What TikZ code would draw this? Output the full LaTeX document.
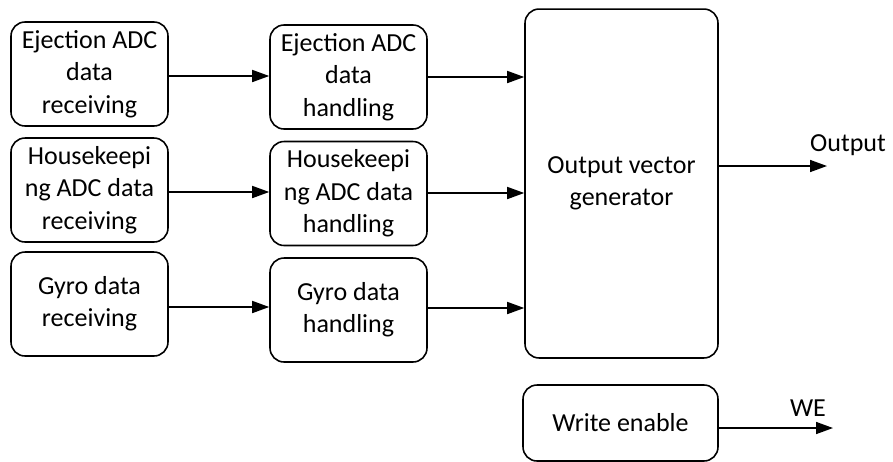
\documentclass[tikz,border=0pt]{standalone}
\usepackage{fontspec}
\setmainfont{Carlito}
\usetikzlibrary{arrows.meta}
\tikzset{
    block/.style={draw, rounded corners=0.28cm, line width=0.9pt, align=center,
        minimum width=3.14cm, minimum height=2.08cm, inner sep=0pt},
    flow/.style={line width=0.9pt, -{Triangle[length=0.34cm, width=0.24cm]}}
}
\begin{document}
\begin{tikzpicture}[x=0.02cm, y=-0.02cm, font=\fontsize{14.8}{18.4}\selectfont]
            \useasboundingbox (0,0) rectangle (893,461);
            % receiving blocks
            \node[block] (recA) at (89.5,74) {Ejection ADC\\data\\receiving};
            \node[block] (recB) at (89.5,190) {Housekeepi\\ng ADC data\\receiving};
            \node[block] (recC) at (89.5,304) {Gyro data\\receiving};
            % handling blocks
            \node[block] (hanA) at (348.5,77) {Ejection ADC\\data\\handling};
            \node[block] (hanB) at (348.5,193.5) {Housekeepi\\ng ADC data\\handling};
            \node[block] (hanC) at (348.5,310) {Gyro data\\handling};
            % generator
            \node[block, minimum width=3.86cm, minimum height=6.98cm] (gen) at (621.5,183.5) {Output vector\\generator};
            \node[block, minimum width=3.9cm, minimum height=1.52cm] (we) at (620.5,423) {Write enable};
            \coordinate (out) at (827,166);
            \coordinate (weout) at (833,428);
            \node (outlbl) at (848,145) {Output};
            \node (welbl) at (808,408) {WE};
            % connectors
            \draw[flow] (recA.east |- 0,76) -- (hanA.west |- 0,76);
            \draw[flow] (recB.east |- 0,192) -- (hanB.west |- 0,192);
            \draw[flow] (recC.east |- 0,307) -- (hanC.west |- 0,307);
            \draw[flow] (hanA.east |- 0,77) -- (gen.west |- 0,77);
            \draw[flow] (hanB.east |- 0,193) -- (gen.west |- 0,193);
            \draw[flow] (hanC.east |- 0,308) -- (gen.west |- 0,308);
            \draw[flow] (gen.east |- out) -- (out);
            \draw[flow] (we.east |- weout) -- (weout);
        \end{tikzpicture}
\end{document}
